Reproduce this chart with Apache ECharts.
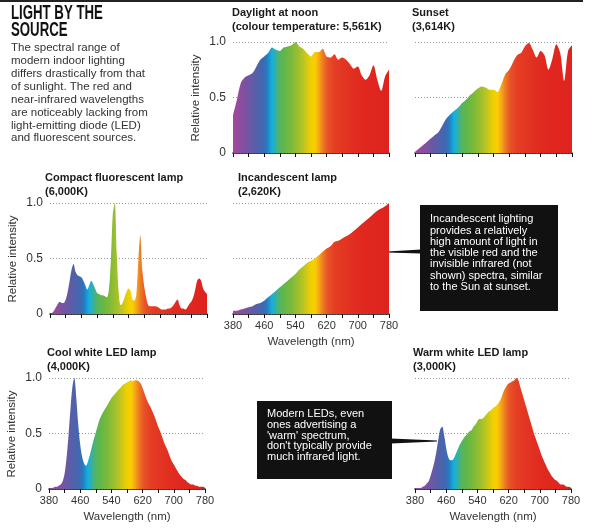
<!doctype html>
<html lang="en">
<head>
<meta charset="utf-8">
<title>Light by the source</title>
<script src="https://cdn.jsdelivr.net/npm/echarts@6/dist/echarts.min.js"></script>
<style>
  html, body { margin: 0; padding: 0; background: #fff; }
</style>
</head>
<body>
<div id="chart" style="width:600px;height:531px;"></div>

<script>
// wavelengths (nm)
var nm10 = [380,390,400,410,420,430,440,450,460,470,480,490,500,510,520,530,540,550,560,570,
            580,590,600,610,620,630,640,650,660,670,680,690,700,710,720,730,740,750,760,770,780];
var nm5 = [380,385,390,395,400,405,410,415,420,425,430,435,440,445,450,455,460,465,470,475,
           480,485,490,495,500,505,510,515,520,525,530,535,540,545,550,555,560,565,570,575,
           580,585,590,595,600,605,610,615,620,625,630,635,640,645,650,655,660,665,670,675,
           680,685,690,695,700,705,710,715,720,725,730,735,740,745,750,755,760,765,770,775,780];

// relative intensity
var daylight = [0.34,0.48,0.63,0.68,0.70,0.72,0.78,0.84,0.87,0.90,0.95,0.93,0.92,0.95,0.96,0.97,1.00,0.96,0.94,0.90,
                0.87,0.91,0.91,0.94,0.87,0.86,0.89,0.84,0.86,0.84,0.80,0.76,0.78,0.70,0.66,0.70,0.79,0.66,0.56,0.69,0.75];
var sunset = [0.01,0.04,0.07,0.10,0.13,0.16,0.19,0.25,0.31,0.35,0.38,0.41,0.45,0.48,0.52,0.55,0.58,0.60,0.59,0.57,
              0.57,0.55,0.62,0.71,0.75,0.82,0.88,0.90,0.96,0.99,0.93,0.86,0.92,0.88,0.75,0.85,0.98,0.90,0.65,0.92,0.97];
var incandescent = [0.03,0.03,0.04,0.05,0.06,0.07,0.09,0.10,0.12,0.15,0.18,0.21,0.24,0.27,0.30,0.33,0.36,0.40,0.43,0.46,
                    0.48,0.50,0.53,0.56,0.59,0.61,0.65,0.66,0.68,0.70,0.72,0.75,0.78,0.81,0.84,0.87,0.90,0.93,0.95,0.97,1.00];
var cfl = [0.00,0.01,0.03,0.06,0.09,0.11,0.10,0.10,0.13,0.20,0.30,0.40,0.45,0.38,0.35,0.34,0.33,0.30,0.26,0.22,
           0.26,0.30,0.27,0.23,0.19,0.18,0.17,0.17,0.16,0.15,0.22,0.48,0.90,1.00,0.55,0.20,0.08,0.10,0.15,0.20,
           0.23,0.21,0.13,0.12,0.18,0.48,0.71,0.40,0.25,0.15,0.08,0.07,0.07,0.07,0.07,0.06,0.05,0.04,0.04,0.04,
           0.05,0.05,0.06,0.08,0.11,0.13,0.08,0.05,0.05,0.04,0.06,0.09,0.11,0.15,0.22,0.30,0.32,0.30,0.23,0.20,0.18];
var coolLed = [0.00,0.01,0.01,0.02,0.02,0.03,0.04,0.07,0.14,0.28,0.48,0.72,0.92,1.00,0.82,0.58,0.40,0.29,0.23,0.21,
               0.25,0.31,0.38,0.45,0.51,0.57,0.63,0.67,0.70,0.73,0.76,0.79,0.82,0.84,0.86,0.88,0.90,0.92,0.94,0.95,
               0.96,0.97,0.98,0.97,0.98,0.98,0.97,0.95,0.91,0.86,0.81,0.77,0.74,0.70,0.66,0.61,0.56,0.52,0.47,0.42,
               0.38,0.34,0.29,0.25,0.22,0.19,0.16,0.13,0.11,0.09,0.08,0.06,0.05,0.04,0.04,0.03,0.03,0.02,0.02,0.02,0.01];
var warmLed = [0.00,0.01,0.01,0.01,0.02,0.03,0.05,0.07,0.12,0.18,0.25,0.34,0.45,0.54,0.56,0.48,0.37,0.29,0.26,0.26,
               0.28,0.32,0.36,0.40,0.43,0.46,0.48,0.50,0.52,0.53,0.56,0.58,0.61,0.63,0.63,0.64,0.66,0.68,0.70,0.71,
               0.73,0.74,0.76,0.78,0.81,0.86,0.90,0.93,0.95,0.96,0.97,0.98,1.00,0.98,0.92,0.86,0.80,0.74,0.68,0.62,
               0.56,0.50,0.45,0.40,0.35,0.30,0.26,0.22,0.18,0.15,0.12,0.10,0.08,0.07,0.05,0.04,0.04,0.03,0.02,0.02,0.01];

var titles = [
    ['Daylight at noon', '(colour temperature: 5,561K)'],
    ['Sunset', '(3,614K)'],
    ['Compact fluorescent lamp', '(6,000K)'],
    ['Incandescent lamp', '(2,620K)'],
    ['Cool white LED lamp', '(4,000K)'],
    ['Warm white LED lamp', '(3,000K)']
];

// panel boxes: left, top, width, height
var panels = [
    {left: 233, top: 42,  width: 156, height: 111, ylab: true,  xlab: false, x: nm10, y: daylight},
    {left: 415, top: 42,  width: 157, height: 111, ylab: false, xlab: false, x: nm10, y: sunset},
    {left: 50,  top: 203, width: 157, height: 111, ylab: true,  xlab: false, x: nm5,  y: cfl},
    {left: 233, top: 203, width: 156, height: 111, ylab: false, xlab: true,  x: nm10, y: incandescent},
    {left: 49,  top: 378, width: 156, height: 111, ylab: true,  xlab: true,  x: nm5,  y: coolLed},
    {left: 415, top: 378, width: 156, height: 111, ylab: false, xlab: true,  x: nm5,  y: warmLed}
];

// spectrum colours along 380-780 nm
var spectrum = [
    [380,'#a8479c'],[400,'#8c4d9f'],[420,'#6f56a4'],[440,'#5460a9'],[455,'#4267b0'],
    [465,'#2d74b9'],[472,'#1693cf'],[480,'#17b0dc'],[488,'#2fb0b0'],[497,'#4fb46a'],
    [510,'#5fb64a'],[530,'#7bba3a'],[550,'#a2c02c'],[565,'#c8c61c'],[580,'#f0d000'],
    [590,'#fbcf00'],[600,'#f5a81a'],[610,'#ee7d22'],[622,'#e75427'],[640,'#e43e24'],
    [700,'#e12a20'],[780,'#df221e']
];

function pairs(xs, ys) {
    return xs.map(function (x, i) { return [x, ys[i]]; });
}

function spectrumFill() {
    var stops = spectrum.map(function (s) {
        return {offset: (s[0] - 380) / 400, color: s[1]};
    });
    return new echarts.graphic.LinearGradient(0, 0, 1, 0, stops, false);
}

var font = '"Liberation Sans", Arial, sans-serif';
var grids = [], xAxes = [], yAxes = [], series = [], graphics = [];

panels.forEach(function (p, i) {
    grids.push({left: p.left, top: p.top, width: p.width, height: p.height, containLabel: false});
    xAxes.push({
        type: 'value', gridIndex: i, min: 380, max: 780, interval: 40,
        axisLine: {lineStyle: {color: '#111', width: 1.5}},
        axisTick: {length: 4, lineStyle: {color: '#111', width: 1}},
        axisLabel: {
            show: p.xlab, margin: 6, fontSize: 11, color: '#333', fontFamily: font,
            formatter: function (v) { return (v - 380) % 80 === 0 ? String(v) : ''; }
        },
        splitLine: {show: false}
    });
    yAxes.push({
        type: 'value', gridIndex: i, min: 0, max: 1, interval: 0.5,
        axisLine: {show: false}, axisTick: {show: false},
        axisLabel: {
            show: p.ylab, margin: 7, fontSize: 12, color: '#333', fontFamily: font,
            formatter: function (v) { return v === 0 ? '0' : v.toFixed(1); }
        },
        splitLine: {lineStyle: {color: '#999', width: 1, type: [1, 2]}}
    });
    series.push({
        type: 'line', xAxisIndex: i, yAxisIndex: i,
        data: pairs(p.x, p.y),
        smooth: 0.3, symbol: 'none', silent: true,
        lineStyle: {width: 0, opacity: 0},
        areaStyle: {color: spectrumFill(), opacity: 1}
    });

    // panel title, two lines
    var tx = [232, 412, 45, 238, 47, 413][i];
    graphics.push({
        type: 'text', left: tx, top: p.top - (i < 2 ? 36 : 32),
        style: {text: titles[i].join('\n'), font: 'bold 11px ' + font, fill: '#1a1a1a', lineHeight: 14}
    });

    if (p.ylab) {
        graphics.push({
            type: 'text', x: p.left - 37, y: p.top + 56, rotation: Math.PI / 2,
            style: {text: 'Relative intensity', font: '11.5px ' + font, fill: '#333',
                    textAlign: 'center', textVerticalAlign: 'middle'}
        });
    }
    if (p.xlab) {
        graphics.push({
            type: 'text', x: p.left + p.width / 2, y: p.top + p.height + 28,
            style: {text: 'Wavelength (nm)', font: '11.5px ' + font, fill: '#333',
                    textAlign: 'center', textVerticalAlign: 'middle'}
        });
    }
});

// header
graphics.push({type: 'rect', shape: {x: 0, y: 0, width: 583, height: 2}, style: {fill: '#222'}});
graphics.push({
    type: 'text', x: 11, y: 5, scaleX: 0.63,
    style: {text: 'LIGHT BY THE\nSOURCE', font: 'bold 21px "Liberation Sans Narrow", ' + font,
            fill: '#111', lineHeight: 16.5}
});
graphics.push({
    type: 'text', x: 11, y: 41.5,
    style: {
        text: ['The spectral range of', 'modern indoor lighting', 'differs drastically from that',
               'of sunlight. The red and', 'near-infrared wavelengths', 'are noticeably lacking from',
               'light-emitting diode (LED)', 'and fluorescent sources.'].join('\n'),
        font: '11.5px ' + font, fill: '#333', lineHeight: 12.9
    }
});

// annotation boxes
graphics.push({type: 'polygon', shape: {points: [[387, 251.6], [387, 252.4], [421, 253.4], [421, 249.6]]}, style: {fill: '#111'}});
graphics.push({type: 'rect', shape: {x: 420, y: 205, width: 138, height: 106}, style: {fill: '#111'}});
graphics.push({
    type: 'text', x: 430, y: 213.7,
    style: {
        text: ['Incandescent lighting', 'provides a relatively', 'high amount of light in',
               'the visible red and the', 'invisible infrared (not', 'shown) spectra, similar',
               'to the Sun at sunset.'].join('\n'),
        font: '11px ' + font, fill: '#fff', lineHeight: 11.25
    }
});
graphics.push({type: 'polygon', shape: {points: [[391, 438.5], [391, 443.5], [437, 441.4], [437, 440.6]]}, style: {fill: '#111'}});
graphics.push({type: 'rect', shape: {x: 257, y: 401, width: 135, height: 78}, style: {fill: '#111'}});
graphics.push({
    type: 'text', x: 267, y: 408.6,
    style: {
        text: ['Modern LEDs, even', 'ones advertising a', '\'warm\' spectrum,',
               'don\'t typically provide', 'much infrared light.'].join('\n'),
        font: '11px ' + font, fill: '#fff', lineHeight: 10.8
    }
});

var myChart = echarts.init(document.getElementById('chart'), null, {renderer: 'canvas'});
myChart.setOption({
    animation: false,
    backgroundColor: '#fff',
    grid: grids,
    xAxis: xAxes,
    yAxis: yAxes,
    series: series,
    graphic: graphics
});
</script>
</body>
</html>
